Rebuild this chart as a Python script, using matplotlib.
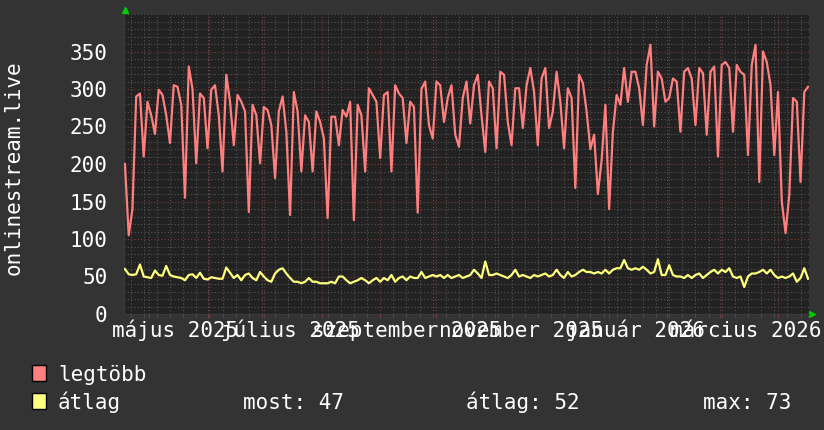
import matplotlib
matplotlib.use('Agg')
import matplotlib.pyplot as plt
import matplotlib.dates as mdates
import matplotlib.transforms as mtransforms
from matplotlib.ticker import MultipleLocator, NullFormatter
from matplotlib.patches import Rectangle
import pandas as pd

# napi csúcs (legtöbb) és átlag, kétnaponta leolvasva
legtobb = [200, 105, 140, 290, 294, 210, 283, 265, 240, 299, 292, 265, 228, 305, 303, 279, 155, 330, 300, 201,
           294, 288, 221, 299, 305, 265, 190, 319, 283, 225,
           292, 283, 270, 136, 279, 265, 201, 276, 272, 252, 181, 270, 290, 243, 132, 296, 270, 190, 265, 256,
           190, 270, 256, 234, 128, 263, 263, 225, 272, 263, 283,
           125, 279, 265, 190, 301, 292, 283, 208, 292, 296, 190, 305, 294, 288, 228, 283, 276, 135, 300,
           310, 252, 234, 310, 305, 256, 288, 305, 239, 223, 288,
           310, 254, 305, 319, 265, 216, 310, 301, 221, 323, 319, 256, 225, 301, 301, 248, 305, 328, 296, 225,
           314, 328, 248, 270, 323, 283, 221, 301, 288, 168,
           319, 308, 270, 220, 239, 160, 205, 279, 140, 243, 292, 279, 328, 283, 323, 323, 301, 252, 332, 359,
           250, 323, 314, 283, 288, 314, 310, 243, 323, 328, 314,
           252, 328, 321, 239, 323, 330, 210, 332, 336, 328, 243, 332, 323, 319, 212, 332, 359, 176, 350, 336,
           305, 212, 296, 150, 108, 159, 288, 283, 176, 296, 303]

atlag = [60, 53, 52, 53, 66, 50, 49, 48, 58, 52, 51, 64, 52, 50, 49, 48, 45, 52, 53, 48,
         55, 47, 46, 49, 48, 47, 47, 62, 55, 48,
         52, 45, 52, 54, 48, 45, 56, 50, 45, 43, 54, 59, 61, 54, 48, 43, 43, 41, 43, 48,
         43, 43, 41, 41, 41, 43, 41, 50, 50, 45, 41,
         43, 45, 48, 45, 41, 45, 48, 43, 48, 45, 52, 43, 48, 50, 45, 50, 48, 48, 56, 48,
         50, 52, 50, 52, 48, 52, 48, 50, 52, 48,
         50, 52, 59, 54, 48, 70, 52, 52, 54, 52, 50, 48, 52, 59, 50, 52, 50, 48, 52, 50,
         52, 54, 50, 52, 59, 52, 48, 56, 50, 52,
         56, 59, 56, 56, 54, 56, 54, 59, 54, 59, 61, 61, 72, 61, 59, 61, 59, 63, 59, 54,
         56, 73, 52, 52, 65, 52, 50, 50, 48, 52, 48,
         52, 54, 48, 52, 56, 59, 54, 59, 56, 61, 50, 48, 50, 36, 50, 54, 54, 56, 59, 54,
         59, 52, 48, 50, 48, 50, 54, 43, 48, 61, 47]

days = pd.date_range('2025-04-18', periods=len(legtobb), freq='2D')

month_labels = ['május 2025', 'július 2025', 'szeptember 2025', 'november 2025', 'január 2026', 'március 2026']
label_months = ['2025-05-01', '2025-07-01', '2025-09-01', '2025-11-01', '2026-01-01', '2026-03-01']

legend_names = ['legtöbb', 'átlag']
stats = ['most: 47', 'átlag: 52', 'max: 73']

red = '#ff7f7f'
yellow = '#ffff7f'

plt.rcParams['font.family'] = 'DejaVu Sans Mono'
plt.rcParams['font.size'] = 15

fig = plt.figure(figsize=(8.24, 4.30), dpi=100, facecolor='#333333')
ax = fig.add_axes([124/824, 116/430, 685/824, 300/430], facecolor='#222222')

ax.plot(days, legtobb, color=red, lw=1.6, zorder=3)
ax.plot(days, atlag, color=yellow, lw=1.6, zorder=3)

ax.set_xlim(pd.Timestamp('2025-04-17 12:00'), pd.Timestamp('2026-04-17 12:00'))
ax.set_ylim(0, 400)

ax.set_yticks(range(0, 351, 50))
ax.yaxis.set_minor_locator(MultipleLocator(10))
ax.xaxis.set_major_locator(mdates.MonthLocator())
ax.xaxis.set_minor_locator(mdates.WeekdayLocator(byweekday=mdates.MO))
ax.xaxis.set_major_formatter(NullFormatter())

ax.set_axisbelow(True)
ax.grid(which='minor', color='#555555', ls=(0, (1, 2)), lw=0.8)
ax.grid(which='major', color='#7a3b3b', ls=(0, (1, 2)), lw=0.8)

ax.tick_params(axis='y', which='both', length=0, pad=12, labelcolor='white')
ax.tick_params(axis='x', which='major', length=3, color='#7a3b3b')
ax.tick_params(axis='x', which='minor', length=2, color='#555555')

for s in ['top', 'right']:
    ax.spines[s].set_visible(False)
for s in ['left', 'bottom']:
    ax.spines[s].set_color('#3a3a3a')

# hónap feliratok a hónap közepére
trans = mtransforms.blended_transform_factory(ax.transData, ax.transAxes)
for lab, m in zip(month_labels, label_months):
    ax.text(pd.Timestamp(m) + pd.Timedelta(days=14), -23/300, lab, transform=trans,
            ha='center', va='baseline', color='white')

# nyilak a tengelyek végén
ax.plot([0.0015], [1.013], marker='^', ms=5, color='#00cc00', transform=ax.transAxes, clip_on=False)
ax.plot([1.005], [0], marker='>', ms=5, color='#00cc00', transform=ax.transAxes, clip_on=False)

fig.text(14/824, 1 - 168/430, 'onlinestream.live', rotation=90, ha='center', va='center', color='white')

# jelmagyarázat
for name, col, y0 in zip(legend_names, [red, yellow], [381, 409]):
    fig.add_artist(Rectangle((32/824, 1 - y0/430), 14/824, 16/430, transform=fig.transFigure,
                             facecolor=col, edgecolor='black', lw=1))
    fig.text(58/824, 1 - y0/430, name, color='white', va='baseline')

for txt, x0 in zip(stats, [243, 466, 703]):
    fig.text(x0/824, 1 - 409/430, txt, color='white', va='baseline')

fig.savefig('out.png', dpi=100, facecolor=fig.get_facecolor())
